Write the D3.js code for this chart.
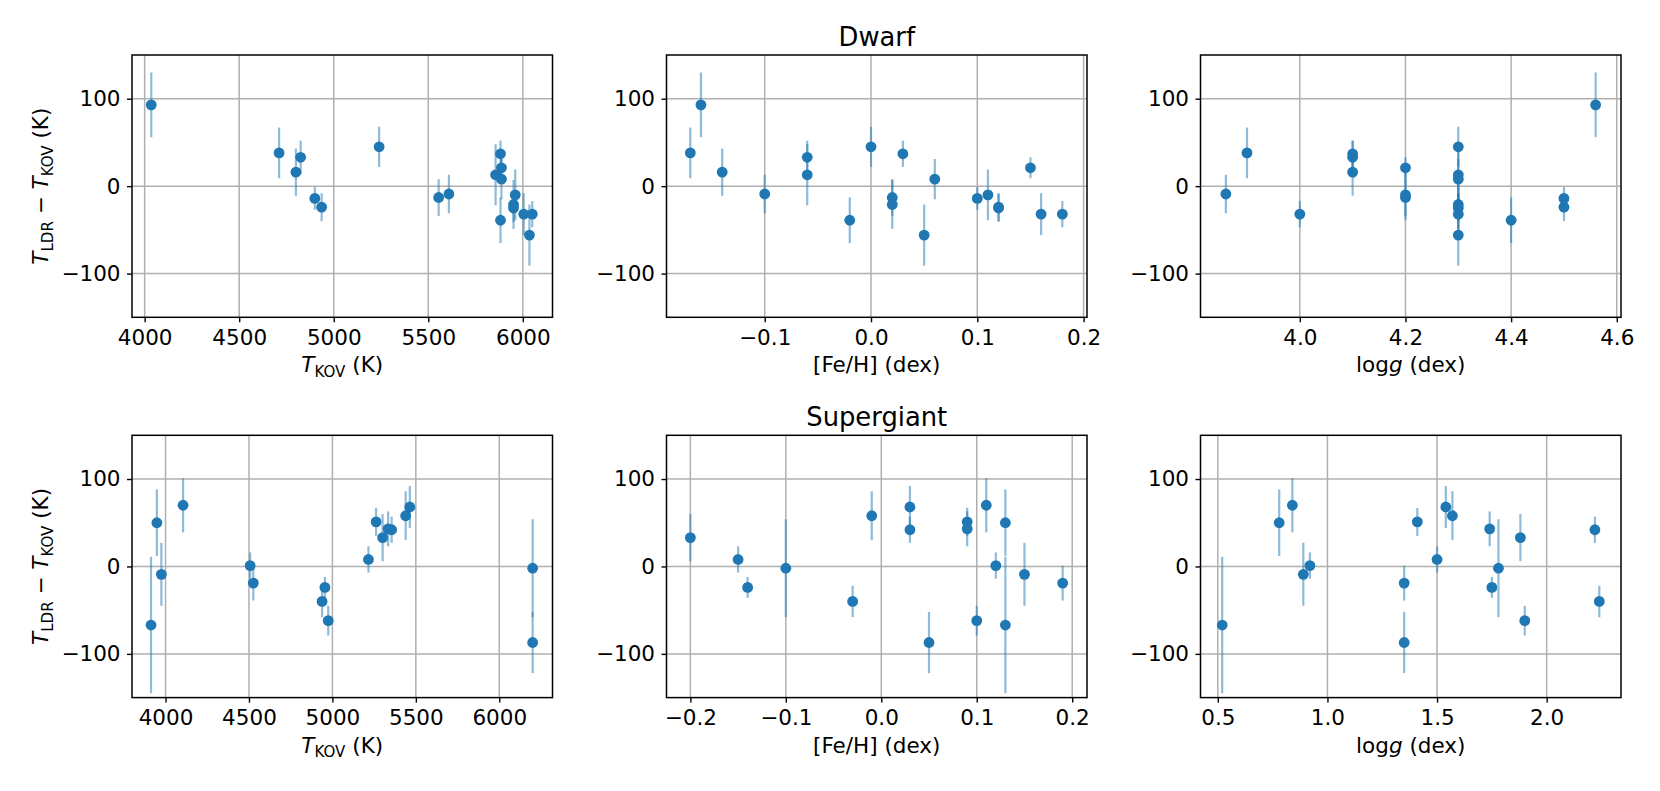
<!DOCTYPE html>
<html lang="en">
<head>
<meta charset="UTF-8">
<title>LDR vs KOV temperatures</title>
<script src="https://d3js.org/d3.v7.min.js"></script>
<style>
  body { margin: 0; background: #fff; }
  svg text { font-family: "DejaVu Sans", sans-serif; fill: #000; }
</style>
</head>
<body>
<svg id="main" width="1660" height="791"></svg>
<script>
// dwarf stars
const dwarfTeff = [4035, 4711, 4800, 4825, 4900, 4936, 5240, 5555, 5609, 5856, 5882, 5887, 5887, 5882, 5960, 5951, 5951, 6005, 6050, 6035];
const dwarfFeH  = [-0.16, -0.17, -0.14, -0.06, 0.10, 0.12, 0.00, 0.02, -0.10, -0.06, 0.03, 0.15, 0.06, -0.02, 0.11, 0.02, 0.12, 0.16, 0.18, 0.05];
const dwarfLogg = [4.56, 3.90, 4.10, 4.10, 4.50, 4.50, 4.30, 4.20, 3.86, 4.30, 4.10, 4.20, 4.30, 4.40, 4.20, 4.30, 4.30, 4.30, 4.00, 4.30];
const dwarfDT   = [93, 38, 16, 33, -14, -24, 45, -13, -9, 13, 37, 21, 8, -39, -10, -21, -25, -32, -32, -56];
const dwarfErr  = [37, 29, 27, 19, 13, 16, 23, 21, 22, 35, 15, 12, 23, 26, 29, 28, 16, 24, 15, 35];

// supergiants
const sgTeff = [3913, 3948, 3975, 4105, 4507, 4526, 4938, 4955, 4975, 5216, 5262, 5301, 5334, 5355, 5439, 5464, 6200, 6200];
const sgFeH  = [0.13, 0.13, 0.15, 0.11, 0.12, 0.19, -0.03, -0.14, 0.10, -0.15, 0.09, -0.20, 0.09, 0.03, -0.01, 0.03, -0.10, 0.05];
const sgLogg = [0.52, 0.78, 0.89, 0.84, 0.92, 1.35, 2.24, 1.75, 1.90, 1.50, 1.41, 1.88, 1.74, 2.22, 1.57, 1.54, 1.78, 1.35];
const sgDT   = [-67, 50, -9, 70, 1, -19, -40, -24, -62, 8, 51, 33, 43, 42, 58, 68, -2, -87];
const sgErr  = [78, 38, 36, 31, 15, 20, 18, 12, 17, 15, 16, 27, 20, 15, 28, 24, 56, 35];

// axis limits and ticks
const yLim = [-150, 150];
const yTicks = [-100, 0, 100];
const dwarfTeffLim = [3933, 6157], dwarfFeHLim = [-0.1924, 0.2032], dwarfLoggLim = [3.812, 4.608];
const sgTeffLim = [3799, 6319], sgFeHLim = [-0.225, 0.2155], sgLoggLim = [0.421, 2.339];
const teffTicks = [4000, 4500, 5000, 5500, 6000];
const dwarfFeHTicks = [-0.1, 0.0, 0.1, 0.2];
const dwarfLoggTicks = [4.0, 4.2, 4.4, 4.6];
const sgFeHTicks = [-0.2, -0.1, 0.0, 0.1, 0.2];
const sgLoggTicks = [0.5, 1.0, 1.5, 2.0];

const C0 = "#1f77b4";
const PW = 420.5, PH = 262.3;
const lefts = [132, 666.5, 1200.5];
const tops = [55, 435.3];
const FS = 21.5;

const svg = d3.select("svg#main");

const minus = s => s.replace(/-/g, "\u2212");
const fmtInt = d => minus(d3.format("d")(d));
const fmt1 = d => minus(d3.format(".1f")(d));

// write a label made of parts {t, it, sub}
function mathText(sel, parts, size) {
  let shifted = false;
  parts.forEach(p => {
    const ts = sel.append("tspan").text(p.t);
    if (p.it) ts.attr("font-style", "italic");
    if (p.sub) {
      ts.attr("font-size", size * 0.7);
      if (!shifted) { ts.attr("dy", size * 0.22); shifted = true; }
    } else if (shifted) {
      ts.attr("dy", -size * 0.22); shifted = false;
    }
  });
}

function panel(col, row, xs, ys, errs, xLim, xTicks, xFmt, xLabel, title) {
  const left = lefts[col], top = tops[row];
  const g = svg.append("g").attr("transform", `translate(${left},${top})`);
  const x = d3.scaleLinear().domain(xLim).range([0, PW]);
  const y = d3.scaleLinear().domain(yLim).range([PH, 0]);

  // grid
  g.append("g").selectAll("line").data(xTicks).join("line")
    .attr("x1", d => x(d)).attr("x2", d => x(d))
    .attr("y1", 0).attr("y2", PH)
    .attr("stroke", "#b0b0b0").attr("stroke-width", 1.5);
  g.append("g").selectAll("line").data(yTicks).join("line")
    .attr("x1", 0).attr("x2", PW)
    .attr("y1", d => y(d)).attr("y2", d => y(d))
    .attr("stroke", "#b0b0b0").attr("stroke-width", 1.5);

  const pts = xs.map((v, i) => ({x: v, y: ys[i], e: errs[i]}));

  // error bars
  g.append("g").selectAll("line").data(pts).join("line")
    .attr("x1", d => x(d.x)).attr("x2", d => x(d.x))
    .attr("y1", d => y(d.y - d.e)).attr("y2", d => y(d.y + d.e))
    .attr("stroke", C0).attr("stroke-opacity", 0.5).attr("stroke-width", 2.2);

  // markers
  g.append("g").selectAll("circle").data(pts).join("circle")
    .attr("cx", d => x(d.x)).attr("cy", d => y(d.y))
    .attr("r", 5.4).attr("fill", C0);

  // axes
  const ax = g.append("g").attr("transform", `translate(0,${PH})`)
    .call(d3.axisBottom(x).tickValues(xTicks).tickFormat(xFmt).tickSize(5).tickSizeOuter(0).tickPadding(7));
  const ay = g.append("g")
    .call(d3.axisLeft(y).tickValues(yTicks).tickFormat(fmtInt).tickSize(5).tickSizeOuter(0).tickPadding(6.5));
  [ax, ay].forEach(a => {
    a.select(".domain").remove();
    a.selectAll("line").attr("stroke", "#000").attr("stroke-width", 1.4);
    a.selectAll("text").attr("font-size", FS).attr("font-family", "DejaVu Sans").attr("fill", "#000");
  });

  // frame
  g.append("rect").attr("width", PW).attr("height", PH)
    .attr("fill", "none").attr("stroke", "#000").attr("stroke-width", 1.5);

  // x label
  const xl = g.append("text").attr("x", PW / 2).attr("y", PH + 55)
    .attr("text-anchor", "middle").attr("font-size", FS);
  mathText(xl, xLabel, FS);

  if (col === 0) {
    const yl = g.append("text")
      .attr("transform", `translate(${48 - left},${PH / 2}) rotate(-90)`)
      .attr("text-anchor", "middle").attr("font-size", FS);
    mathText(yl, [{t: "T", it: true}, {t: "LDR", sub: true}, {t: " \u2212 "}, {t: "T", it: true}, {t: "KOV", sub: true}, {t: " (K)"}], FS);
  }
  if (title) {
    g.append("text").attr("x", PW / 2).attr("y", -9.5)
      .attr("text-anchor", "middle").attr("font-size", 25.8).text(title);
  }
}

const teffLabel = [{t: "T", it: true}, {t: "KOV", sub: true}, {t: " (K)"}];
const fehLabel = [{t: "[Fe/H] (dex)"}];
const loggLabel = [{t: "log"}, {t: "g", it: true}, {t: " (dex)"}];

panel(0, 0, dwarfTeff, dwarfDT, dwarfErr, dwarfTeffLim, teffTicks, fmtInt, teffLabel, null);
panel(1, 0, dwarfFeH, dwarfDT, dwarfErr, dwarfFeHLim, dwarfFeHTicks, fmt1, fehLabel, "Dwarf");
panel(2, 0, dwarfLogg, dwarfDT, dwarfErr, dwarfLoggLim, dwarfLoggTicks, fmt1, loggLabel, null);
panel(0, 1, sgTeff, sgDT, sgErr, sgTeffLim, teffTicks, fmtInt, teffLabel, null);
panel(1, 1, sgFeH, sgDT, sgErr, sgFeHLim, sgFeHTicks, fmt1, fehLabel, "Supergiant");
panel(2, 1, sgLogg, sgDT, sgErr, sgLoggLim, sgLoggTicks, fmt1, loggLabel, null);
</script>
</body>
</html>
